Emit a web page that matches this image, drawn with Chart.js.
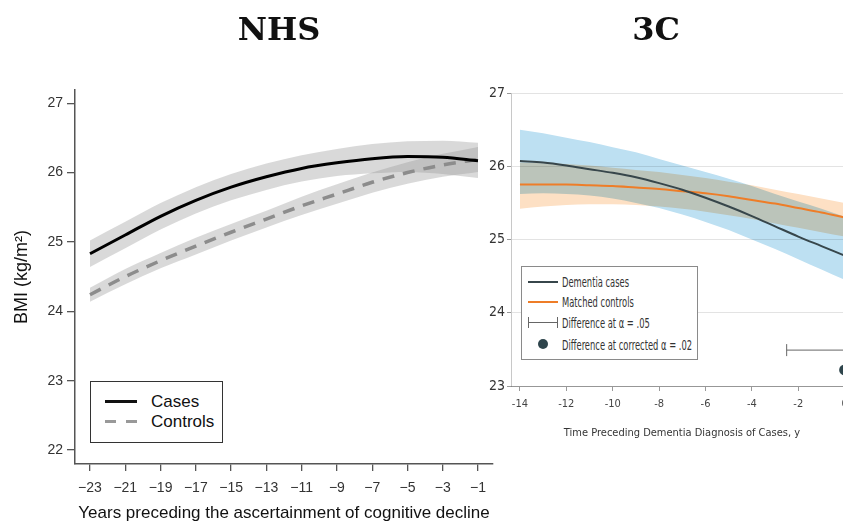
<!DOCTYPE html>
<html><head><meta charset="utf-8">
<script src="https://cdn.jsdelivr.net/npm/chart.js@4"></script>
<style>
html,body{margin:0;padding:0;width:843px;height:521px;overflow:hidden;background:#fff;}
#wrap{position:relative;width:843px;height:521px;overflow:hidden;}
canvas{position:absolute;}
#c1{left:0;top:0;}
#c2{left:470px;top:0;}
.ptitle{position:absolute;top:13px;font-family:"DejaVu Serif",serif;font-weight:bold;font-size:32px;line-height:32px;color:#111;transform:translateX(-50%);white-space:nowrap;}
.abs{position:absolute;}
.lt{position:absolute;font-family:"Liberation Sans",Arial,sans-serif;font-size:17px;color:#111;height:20px;line-height:20px;white-space:nowrap;}
.rt{position:absolute;font-family:"Liberation Sans Narrow","DejaVu Sans Condensed",sans-serif;font-size:14.5px;color:#333;height:16px;line-height:16px;white-space:nowrap;transform:scaleX(0.64);transform-origin:left center;}
</style></head>
<body><div id="wrap">
<canvas id="c1" width="500" height="521"></canvas>
<canvas id="c2" width="390" height="521"></canvas>
<div class="ptitle" style="left:279px">NHS</div>
<div class="ptitle" style="left:656px">3C</div>

<div class="abs" style="left:90px;top:381px;width:133px;height:62px;border:1.5px solid #333;box-sizing:border-box;background:#fff;"></div>
<div class="abs" style="left:105px;top:400px;width:32px;height:3px;background:#111;"></div>
<div class="abs" style="left:105px;top:420px;width:11px;height:3px;background:#999;"></div>
<div class="abs" style="left:126px;top:420px;width:11px;height:3px;background:#999;"></div>
<div class="lt" style="left:151px;top:392px;">Cases</div>
<div class="lt" style="left:151px;top:412px;">Controls</div>

<div class="abs" style="left:521px;top:266px;width:177px;height:94px;border:1px solid #8a8a8a;box-sizing:border-box;background:#fff;"></div>
<div class="abs" style="left:528px;top:281px;width:30px;height:2px;background:#37464b;"></div>
<div class="abs" style="left:528px;top:301px;width:30px;height:2px;background:#ee7d28;"></div>
<div class="abs" style="left:528px;top:322px;width:30px;height:1px;background:#666;"></div>
<div class="abs" style="left:528px;top:317px;width:1px;height:11px;background:#666;"></div>
<div class="abs" style="left:557px;top:317px;width:1px;height:11px;background:#666;"></div>
<div class="abs" style="left:538px;top:339px;width:10px;height:10px;border-radius:50%;background:#2e454c;"></div>
<div class="rt" style="left:562px;top:274px;">Dementia cases</div>
<div class="rt" style="left:562px;top:294px;">Matched controls</div>
<div class="rt" style="left:562px;top:315px;">Difference at α = .05</div>
<div class="rt" style="left:562px;top:337px;">Difference at corrected α = .02</div>
</div>
<script>
// ---------- NHS panel data ----------
const nhsYears = [-23,-21,-19,-17,-15,-13,-11,-9,-7,-5,-3,-1];
const nhsCases = [24.83,25.10,25.37,25.60,25.79,25.94,26.06,26.14,26.20,26.23,26.22,26.17];
const nhsCasesLow = [24.64,24.91,25.18,25.41,25.60,25.75,25.87,25.95,25.99,26.01,25.98,25.92];
const nhsCasesHigh = [25.02,25.29,25.56,25.79,25.98,26.13,26.25,26.34,26.41,26.45,26.46,26.43];
const nhsControls = [24.24,24.50,24.73,24.94,25.14,25.33,25.52,25.69,25.86,26.00,26.11,26.19];
const nhsControlsLow = [24.14,24.39,24.62,24.82,25.02,25.21,25.39,25.55,25.71,25.84,25.94,26.01];
const nhsControlsHigh = [24.34,24.61,24.84,25.06,25.26,25.45,25.65,25.83,26.00,26.15,26.27,26.37];
const nhsXTicks = [-23,-21,-19,-17,-15,-13,-11,-9,-7,-5,-3,-1];
const nhsYTicks = [22,23,24,25,26,27];
const nhsXTitle = "Years preceding the ascertainment of cognitive decline";
const nhsYTitle = "BMI (kg/m²)";

// ---------- 3C panel data ----------
const c3Years = [-14,-13,-12,-11,-10,-9,-8,-7,-6,-5,-4,-3,-2,-1,0];
const c3Cases = [26.07,26.05,26.01,25.96,25.91,25.85,25.77,25.68,25.57,25.45,25.32,25.18,25.04,24.91,24.78];
const c3CasesLow = [25.62,25.63,25.62,25.60,25.56,25.50,25.43,25.34,25.24,25.13,25.00,24.87,24.73,24.59,24.45];
const c3CasesHigh = [26.50,26.45,26.39,26.33,26.26,26.19,26.10,26.01,25.92,25.83,25.73,25.62,25.52,25.42,25.31];
const c3Controls = [25.75,25.75,25.75,25.74,25.73,25.71,25.69,25.66,25.63,25.59,25.54,25.49,25.43,25.37,25.30];
const c3ControlsLow = [25.42,25.45,25.47,25.48,25.48,25.47,25.45,25.42,25.38,25.33,25.28,25.22,25.16,25.10,25.04];
const c3ControlsHigh = [26.05,26.04,26.03,26.01,25.98,25.95,25.92,25.88,25.84,25.79,25.74,25.68,25.62,25.56,25.50];
const c3DiffBarX = [-2.5, 0];
const c3DiffBarY = [23.49, 23.49];
const c3DiffDotX = [0];
const c3DiffDotY = [23.22];
const c3XTicks = [-14,-12,-10,-8,-6,-4,-2,0];
const c3YTicks = [23,24,25,26,27];
const c3XTitle = "Time Preceding Dementia Diagnosis of Cases, y";

const pts = (xs, ys) => xs.map((x, i) => ({x, y: ys[i]}));
const sans = '"Liberation Sans", Arial, sans-serif';
const narrow = '"Liberation Sans Narrow", "DejaVu Sans Condensed", sans-serif';

const band = (data, color, fill) => ({data, fill, backgroundColor: color, borderWidth: 0, pointRadius: 0, tension: 0.4, cubicInterpolationMode: 'monotone'});
const line = (data, color, width, dash) => ({data, fill: false, borderColor: color, borderWidth: width, borderDash: dash || [], pointRadius: 0, tension: 0.4, cubicInterpolationMode: 'monotone'});

new Chart(document.getElementById('c1'), {
  type: 'line',
  data: { datasets: [
    line(pts(nhsYears, nhsCases), '#000', 3),
    line(pts(nhsYears, nhsControls), '#8c8c8c', 3.5, [12, 9]),
    band(pts(nhsYears, nhsCasesHigh), 'rgba(150,150,150,0.36)', '+1'),
    band(pts(nhsYears, nhsCasesLow), 'rgba(0,0,0,0)', false),
    band(pts(nhsYears, nhsControlsHigh), 'rgba(150,150,150,0.36)', '+1'),
    band(pts(nhsYears, nhsControlsLow), 'rgba(0,0,0,0)', false)
  ]},
  options: {
    responsive: false, animation: false, devicePixelRatio: 1,
    layout: { padding: {left: 0, top: 90, right: 7, bottom: 0} },
    plugins: { legend: {display: false}, tooltip: {enabled: false} },
    scales: {
      x: {
        type: 'linear', min: -23.85, max: -0.15,
        afterBuildTicks: s => { s.ticks = nhsXTicks.map(v => ({value: v})); },
        afterFit: s => { s.height = 57; },
        grid: {drawOnChartArea: false, drawTicks: true, tickLength: 7, color: '#555', lineWidth: 1.3},
        border: {display: true, color: '#555', width: 1.5},
        ticks: {color: '#333', font: {family: sans, size: 14}, padding: 9, autoSkip: false, maxRotation: 0,
          callback: v => v < 0 ? '\u2212' + Math.abs(v) : String(v)},
        title: {display: true, text: nhsXTitle, color: '#111', font: {family: sans, size: 17, lineHeight: 1}, padding: {top: 0, bottom: -1}}
      },
      y: {
        type: 'linear', min: 21.8, max: 27.19,
        afterBuildTicks: s => { s.ticks = nhsYTicks.map(v => ({value: v})); },
        afterFit: s => { s.width = 75; },
        grid: {drawOnChartArea: false, drawTicks: true, tickLength: 8, color: '#555', lineWidth: 1.3},
        border: {display: true, color: '#555', width: 1.5},
        ticks: {color: '#333', font: {family: sans, size: 14}, padding: 4},
        title: {display: true, text: nhsYTitle, color: '#111', font: {family: sans, size: 18, lineHeight: 1.2}, padding: {top: 11, bottom: 0}}
      }
    }
  }
});

const multiplyBands = {
  id: 'multiplyBands',
  beforeDraw(chart) { chart.ctx.globalCompositeOperation = 'multiply'; },
  afterDatasetDraw(chart, args) { if (args.index === 4) chart.ctx.globalCompositeOperation = 'source-over'; },
  afterDraw(chart) { chart.ctx.globalCompositeOperation = 'source-over'; }
};

new Chart(document.getElementById('c2'), {
  type: 'line',
  data: { datasets: [
    {data: pts(c3DiffDotX, c3DiffDotY), showLine: false, pointRadius: 5.5, pointBackgroundColor: '#2e454c', pointBorderWidth: 0},
    {data: pts(c3DiffBarX, c3DiffBarY), showLine: true, borderColor: '#666', borderWidth: 1, pointStyle: 'line', pointRotation: 90, pointRadius: 6, pointBorderColor: '#666', pointBorderWidth: 1},
    line(pts(c3Years, c3Cases), '#37464b', 2),
    line(pts(c3Years, c3Controls), '#ee7d28', 2),
    band(pts(c3Years, c3CasesHigh), '#bde0f2', '+1'),
    band(pts(c3Years, c3CasesLow), 'rgba(0,0,0,0)', false),
    band(pts(c3Years, c3ControlsHigh), '#fde0c4', '+1'),
    band(pts(c3Years, c3ControlsLow), 'rgba(0,0,0,0)', false)
  ]},
  plugins: [multiplyBands],
  options: {
    responsive: false, animation: false, devicePixelRatio: 1,
    layout: { padding: {left: 0, top: 93, right: 5, bottom: 0} },
    plugins: { legend: {display: false}, tooltip: {enabled: false} },
    scales: {
      x: {
        type: 'linear', min: -14.386, max: 0.36,
        afterBuildTicks: s => { s.ticks = c3XTicks.map(v => ({value: v})); },
        afterFit: s => { s.height = 135; },
        grid: {drawOnChartArea: false, drawTicks: true, tickLength: 5, color: '#999', lineWidth: 1},
        border: {display: true, color: '#aaa', width: 1},
        ticks: {color: '#444', font: {family: narrow, size: 11}, padding: 7, autoSkip: false, maxRotation: 0},
        title: {display: true, text: c3XTitle, color: '#333', font: {family: narrow, size: 11, lineHeight: 1.2}, padding: {top: 0, bottom: 81}}
      },
      y: {
        type: 'linear', min: 23, max: 27,
        afterBuildTicks: s => { s.ticks = c3YTicks.map(v => ({value: v})); },
        afterFit: s => { s.width = 41; },
        grid: {color: '#e3e3e3', lineWidth: 1, drawTicks: true, tickLength: 4, tickColor: '#999'},
        border: {display: true, color: '#c8c8c8', width: 1},
        ticks: {color: '#333', font: {family: narrow, size: 14}, padding: 2}
      }
    }
  }
});
</script>
</body></html>
